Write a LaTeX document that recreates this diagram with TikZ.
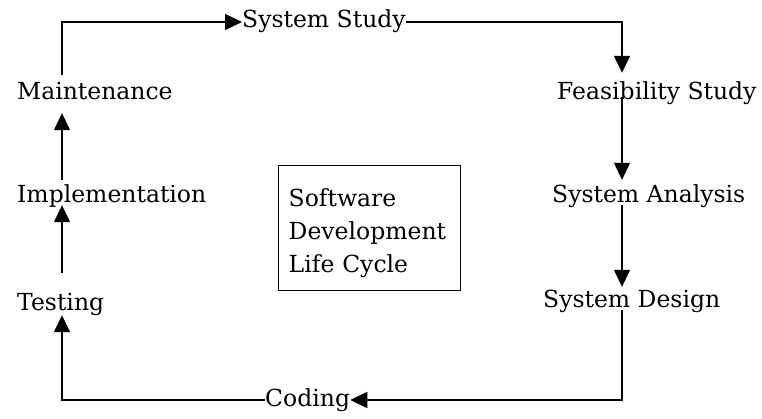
\documentclass[tikz,border=0pt]{standalone}
\usepackage{fontspec}
\setmainfont{DejaVu Serif}
\usetikzlibrary{arrows.meta}
\tikzset{
  lbl/.style={anchor=base west, inner sep=0pt, text height=17pt, text depth=5pt,
    font=\fontsize{23.5}{28}\selectfont},
  arr/.style={line width=1.4pt, -{Triangle[length=17pt,width=16pt]}},
  conn/.style={line width=1.4pt},
  sdlcbox/.style={draw, line width=1.4pt, anchor=north west, minimum width=182pt,
    minimum height=125pt, text width=162pt, inner xsep=10pt, align=left,
    font=\fontsize{23.5}{33}\selectfont}
}
\begin{document}
\begin{tikzpicture}[x=1pt,y=-1pt]
\useasboundingbox[fill=white] (0,0) rectangle (762,419);
\coordinate (xl) at (62,0);
\coordinate (xr) at (622,0);
\node[lbl] (study) at (242,28) {System Study};
\node[lbl] (feas) at (557,100) {Feasibility Study};
\node[lbl] (anal) at (552,203) {System Analysis};
\node[lbl] (design) at (543,308) {System Design};
\node[lbl] (coding) at (265,406) {Coding};
\node[lbl] (testing) at (17,310) {Testing};
\node[lbl] (impl) at (17,203) {Implementation};
\node[lbl] (maint) at (17,100) {Maintenance};
\node[sdlcbox] (sdlc) at (278,165) {\rule{0pt}{27pt}Software\\Development\\Life Cycle};
% connectors
\draw[arr] ([yshift=8pt]maint.north -| xl) |- (study.west);
\draw[arr] (study.east) -| ([yshift=10pt]feas.north -| xr);
\draw[arr] ([yshift=3pt]feas.base -| xr) -- ([yshift=6pt]anal.north -| xr);
\draw[arr] ([yshift=-2pt]anal.base -| xr) -- ([yshift=4pt]design.north -| xr);
\draw[arr] ([yshift=-2pt]design.base -| xr) |- (coding.east);
\draw[arr] (coding.west) -| (testing.south -| xl);
\draw[arr] ([yshift=20pt]testing.north -| xl) -- ([yshift=3pt]impl.south -| xl);
\draw[arr] ([yshift=6pt]impl.north -| xl) -- ([yshift=-8pt]maint.south -| xl);
\end{tikzpicture}
\end{document}
